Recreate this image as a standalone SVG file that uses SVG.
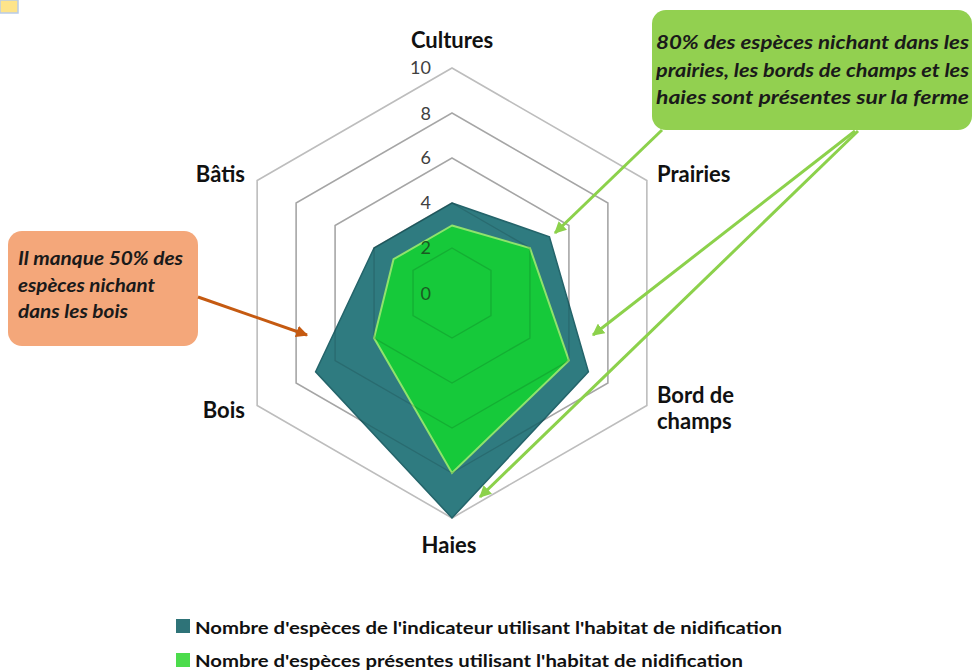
<svg xmlns="http://www.w3.org/2000/svg" width="973" height="672" viewBox="0 0 973 672">
<style>
.grid{fill:none;stroke:#bdbdbd;stroke-width:1.6}
.gridover{fill:none;stroke:#000;stroke-opacity:0.13;stroke-width:1.4}
.ax{font-family:Lato,"Liberation Sans",sans-serif;font-weight:bold;font-size:22px;fill:#111}
.tick{font-family:Lato,"Liberation Sans",sans-serif;font-size:18px;fill:#404040;text-anchor:end}
.call{font-family:Lato,"Liberation Sans",sans-serif;font-style:italic;font-weight:bold;font-size:18px;fill:#1a1a1a}
.leg{font-family:Lato,"Liberation Sans",sans-serif;font-weight:bold;font-size:17px;fill:#111}
.garrow{stroke:#8cd14b;stroke-width:3;fill:none}
.oarrow{stroke:#c55a11;stroke-width:3;fill:none}
</style>
<defs>
<marker id="mg" viewBox="0 0 10 10" refX="9" refY="5" markerWidth="4" markerHeight="4" orient="auto" markerUnits="strokeWidth"><path d="M0,0 L10,5 L0,10 z" fill="#8cd14b"/></marker>
<marker id="mo" viewBox="0 0 10 10" refX="9" refY="5" markerWidth="4" markerHeight="4" orient="auto" markerUnits="strokeWidth"><path d="M0,0 L10,5 L0,10 z" fill="#c55a11"/></marker>
</defs>
<rect width="973" height="672" fill="#fff"/>
<rect x="0" y="0" width="18" height="13" fill="#fde48a" stroke="#b8cbe8" stroke-width="1.5"/>

<g id="grid">
<polygon class="grid" points="452,248 490.97,270.5 490.97,315.5 452,338 413.03,315.5 413.03,270.5"/>
<polygon class="grid" points="452,203 529.94,248 529.94,338 452,383 374.06,338 374.06,248"/>
<polygon class="grid" points="452,158 568.91,225.5 568.91,360.5 452,428 335.09,360.5 335.09,225.5"/>
<polygon class="grid" points="452,113 607.88,203 607.88,383 452,473 296.12,383 296.12,203"/>
<polygon class="grid" points="452,68 646.86,180.5 646.86,405.5 452,518 257.14,405.5 257.14,180.5"/>
</g>

<g id="ticks">
<text class="tick" x="431" y="74">10</text>
<text class="tick" x="431" y="120">8</text>
<text class="tick" x="431" y="164">6</text>
<text class="tick" x="431" y="209">4</text>
</g>

<g id="serie-indicateur">
<polygon points="452,203 549.43,236.75 588.4,371.75 452,518 315.6,371.75 374.06,248" fill="#2f7b80" stroke="#24646a" stroke-width="1.5"/>
</g>
<g id="serie-presentes">
<polygon points="452,225.5 529.94,248 568.91,360.5 452,473 374.06,338 393.54,259.25" fill="#16c93a" stroke="#8fe36c" stroke-width="2"/>
</g>
<g id="grid-overlay">
<polygon class="gridover" points="452,248 490.97,270.5 490.97,315.5 452,338 413.03,315.5 413.03,270.5"/>
<polygon class="gridover" points="452,203 529.94,248 529.94,338 452,383 374.06,338 374.06,248"/>
<polygon class="gridover" points="452,158 568.91,225.5 568.91,360.5 452,428 335.09,360.5 335.09,225.5"/>
<polygon class="gridover" points="452,113 607.88,203 607.88,383 452,473 296.12,383 296.12,203"/>
</g>
<g id="ticks-inner">
<text class="tick" x="431" y="254" style="fill:#1a5a22">2</text>
<text class="tick" x="431" y="300" style="fill:#1a5a22">0</text>
</g>

<g id="axis-labels">
<text class="ax" x="452" y="48" text-anchor="middle">Cultures</text>
<text class="ax" x="657" y="182">Prairies</text>
<text class="ax" x="657" y="403">Bord de</text>
<text class="ax" x="657" y="429">champs</text>
<text class="ax" x="449" y="553" text-anchor="middle">Haies</text>
<text class="ax" x="245" y="418" text-anchor="end">Bois</text>
<text class="ax" x="245" y="182" text-anchor="end">Bâtis</text>
</g>

<g id="callout-bois">
<rect x="8" y="231" width="190" height="115" rx="14" fill="#f4a77a"/>
<text class="call" x="18" y="265" textLength="165" lengthAdjust="spacingAndGlyphs">Il manque 50% des</text>
<text class="call" x="18" y="292" textLength="137" lengthAdjust="spacingAndGlyphs">espèces nichant</text>
<text class="call" x="18" y="318" textLength="110" lengthAdjust="spacingAndGlyphs">dans les bois</text>
</g>

<g id="callout-prairies">
<rect x="652" y="10" width="320" height="120" rx="14" fill="#92d050"/>
<text class="call" x="656" y="49" textLength="313" lengthAdjust="spacingAndGlyphs">80% des espèces nichant dans les</text>
<text class="call" x="656" y="77" textLength="313" lengthAdjust="spacingAndGlyphs">prairies, les bords de champs et les</text>
<text class="call" x="656" y="104" textLength="313" lengthAdjust="spacingAndGlyphs">haies sont présentes sur la ferme</text>
</g>

<g id="connectors">
<line class="oarrow" x1="198" y1="297" x2="307" y2="335" marker-end="url(#mo)"/>
<line class="garrow" x1="662" y1="130" x2="555" y2="233" marker-end="url(#mg)"/>
<line class="garrow" x1="855" y1="131" x2="593" y2="335" marker-end="url(#mg)"/>
<line class="garrow" x1="858" y1="131" x2="480" y2="497" marker-end="url(#mg)"/>
</g>

<g id="legend">
<rect x="176" y="619" width="14" height="14" fill="#2e7378"/>
<text class="leg" x="195" y="634" textLength="587" lengthAdjust="spacingAndGlyphs">Nombre d'espèces de l'indicateur utilisant l'habitat de nidification</text>
<rect x="176" y="653" width="14" height="14" fill="#4cdc4c"/>
<text class="leg" x="195" y="667" textLength="548" lengthAdjust="spacingAndGlyphs">Nombre d'espèces présentes utilisant l'habitat de nidification</text>
</g>
</svg>
